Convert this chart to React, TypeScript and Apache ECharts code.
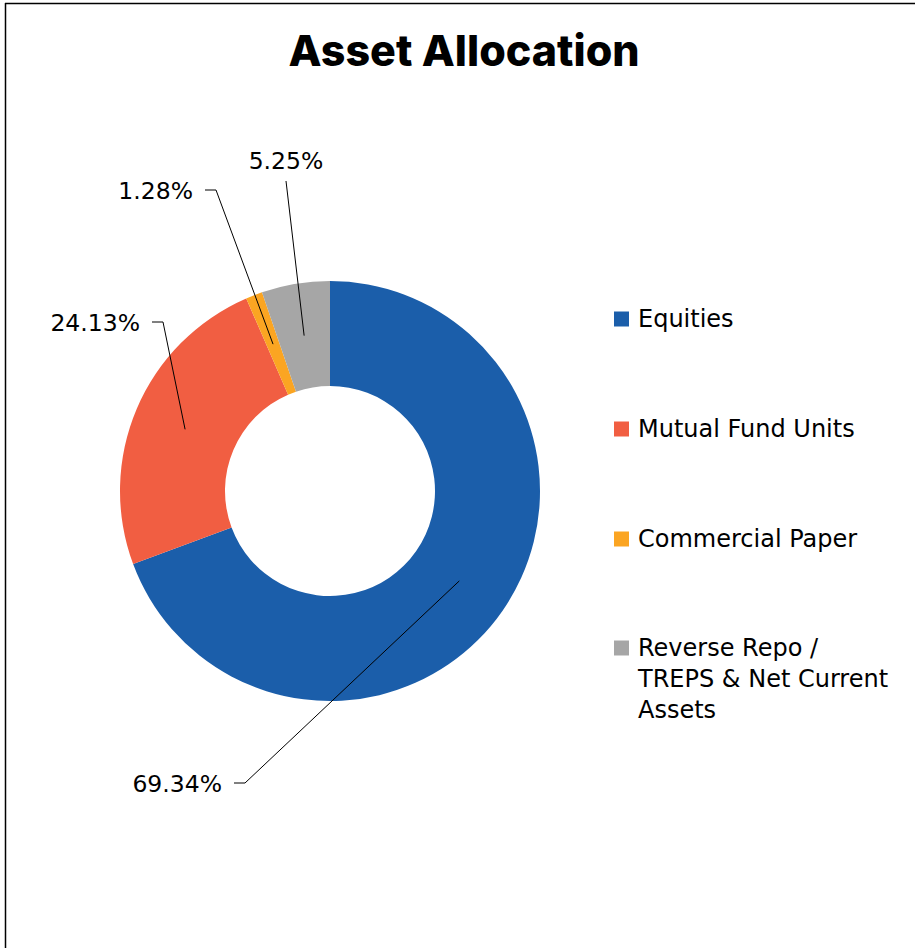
import React, { useEffect, useRef } from "react";
import * as echarts from "echarts";

const categories = [
  "Equities",
  "Mutual Fund Units",
  "Commercial Paper",
  "Reverse Repo / TREPS & Net Current Assets",
];
const values = [69.34, 24.13, 1.28, 5.25];
const colors = ["#1B5EAA", "#F15E42", "#FBA522", "#A6A6A6"];
const legendLines = [
  ["Equities"],
  ["Mutual Fund Units"],
  ["Commercial Paper"],
  ["Reverse Repo /", "TREPS & Net Current", "Assets"],
];

// label placement (layout only)
const labelAnchors = [
  { x: 222, y: 784, align: "right" },
  { x: 140, y: 323, align: "right" },
  { x: 193, y: 191, align: "right" },
  { x: 286, y: 161, align: "center" },
];
const legendCenters = [319, 429, 539, 648];
const LINE_H = 31;

const TITLE_FONT = "Inter, 'Noto Sans', sans-serif";
const FONT = "'DejaVu Sans', 'Noto Sans', sans-serif";

export default function App() {
  const ref = useRef<HTMLDivElement>(null);
  useEffect(() => {
    if (!ref.current) return;
    const chart = echarts.init(ref.current, undefined, { renderer: "svg" });
    const data = categories.map((name, i) => ({
      name,
      value: values[i],
      itemStyle: { color: colors[i] },
    }));

    const borders = [
      {
        id: "borderTop",
        type: "line",
        shape: { x1: 5, y1: 3.5, x2: 915, y2: 3.5 },
        style: { stroke: "#000", lineWidth: 1.5 },
      },
      {
        id: "borderLeft",
        type: "line",
        shape: { x1: 5.5, y1: 3, x2: 5.5, y2: 948 },
        style: { stroke: "#000", lineWidth: 1.5 },
      },
    ];

    const option: any = {
      animation: false,
      backgroundColor: "#fff",
      title: {
        text: "Asset Allocation",
        left: 459,
        textAlign: "center",
        top: 23,
        textStyle: {
          fontFamily: TITLE_FONT,
          fontWeight: 800,
          fontSize: 43,
          color: "#000",
        },
      },
      legend: categories.map((name, i) => {
        const lines = legendLines[i];
        // leading blank lines so the first line sits beside the marker
        const padded = [...lines.slice(1).map(() => ""), ...lines];
        const nLines = padded.length;
        return {
          orient: "vertical",
          left: 614,
          top: legendCenters[i] - (nLines * LINE_H) / 2,
          padding: 0,
          itemWidth: 15,
          itemHeight: 15,
          itemGap: 0,
          icon: "rect",
          selectedMode: false,
          data: [{ name, itemStyle: { color: colors[i] } }],
          formatter: () => padded.join("\n"),
          textStyle: {
            fontFamily: FONT,
            fontSize: 24,
            color: "#000",
            lineHeight: LINE_H,
            padding: [0, 0, 0, 4],
          },
        };
      }),
      graphic: { elements: borders },
      series: [
        {
          type: "pie",
          center: [330, 491],
          radius: [105, 210],
          startAngle: 90,
          clockwise: true,
          silent: true,
          avoidLabelOverlap: false,
          label: {
            show: true,
            position: "outside",
            formatter: (p: any) => p.value.toFixed(2) + "%",
            fontFamily: FONT,
            fontSize: 23.5,
            color: "#000",
          },
          labelLine: { show: false },
          labelLayout: (params: any) => {
            const a = labelAnchors[params.dataIndex];
            return {
              x: a.x,
              y: a.y,
              align: a.align,
              verticalAlign: "middle",
            };
          },
          data,
        },
      ],
    };
    chart.setOption(option);

    // leader lines from the middle of each ring segment (library layout) to its label
    const seriesData = (chart as any).getModel().getSeriesByIndex(0).getData();
    const leaders = categories.map((_, i) => {
      const lay = seriesData.getItemLayout(i);
      const mid = (lay.startAngle + lay.endAngle) / 2;
      const rr = (lay.r + lay.r0) / 2;
      const start = [lay.cx + rr * Math.cos(mid), lay.cy + rr * Math.sin(mid)];
      const a = labelAnchors[i];
      const pts =
        a.align === "center"
          ? [start, [a.x, a.y + 20]]
          : [start, [a.x + 23, a.y - 1], [a.x + 12, a.y - 1]];
      return {
        id: "leader" + i,
        type: "polyline",
        silent: true,
        z: 10,
        shape: { points: pts },
        style: { stroke: "#000", lineWidth: 1, fill: null },
      };
    });
    chart.setOption({ graphic: { elements: [...borders, ...leaders] } });

    return () => chart.dispose();
  }, []);
  return (
    <div
      ref={ref}
      style={{ position: "absolute", left: 0, top: 0, width: 915, height: 948 }}
    />
  );
}
